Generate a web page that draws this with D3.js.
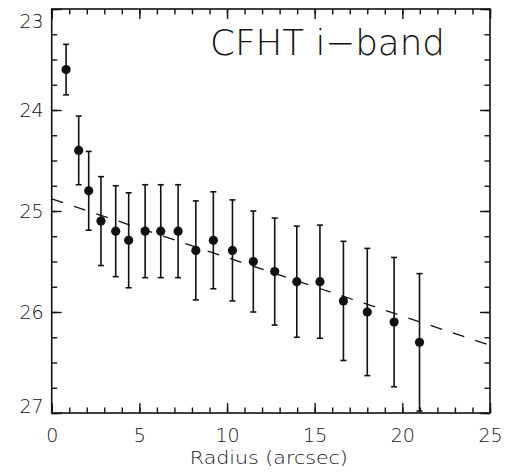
<!DOCTYPE html>
<html>
<head>
<meta charset="utf-8">
<script src="https://cdn.jsdelivr.net/npm/d3@7/dist/d3.min.js"></script>
<style>
  html, body { margin: 0; padding: 0; background: #fff; }
  svg { display: block; }
  .lbl { font-family: "DejaVu Sans", sans-serif; font-weight: 200; fill: #111; }
</style>
</head>
<body>
<svg id="chart" width="515" height="476"></svg>
<script>
// Radial surface-brightness profile, CFHT i-band
const radius = [0.82, 1.54, 2.11, 2.81, 3.65, 4.39, 5.33, 6.22, 7.21, 8.22, 9.22, 10.31, 11.50, 12.72, 13.98, 15.30, 16.64, 18.00, 19.53, 20.98];
const mag    = [23.60, 24.40, 24.80, 25.10, 25.20, 25.29, 25.20, 25.20, 25.20, 25.39, 25.29, 25.39, 25.50, 25.60, 25.70, 25.70, 25.89, 26.00, 26.10, 26.30];
const magErr = [0.25, 0.34, 0.39, 0.44, 0.45, 0.47, 0.46, 0.46, 0.46, 0.49, 0.48, 0.50, 0.50, 0.53, 0.55, 0.56, 0.59, 0.63, 0.64, 0.68];

// Linear fit: mu(r) = fitZero + fitSlope * r
const fitZero = 24.88;
const fitSlope = 0.058;

const xMajor = [0, 5, 10, 15, 20, 25];
const xMinor = d3.range(0, 26, 1);
const yMajor = [23, 24, 25, 26, 27];
const yMinor = d3.range(23, 27.001, 0.25);

const titleText = "CFHT i\u2212band";
const xTitle = "Radius (arcsec)";

const svg = d3.select("#chart");
const L = 51.7, R = 490, T = 9, B = 413;

const x = d3.scaleLinear().domain([0, 25]).range([L, R]);
const y = d3.scaleLinear().domain([23, 27]).range([T, B]);

// Axes with inward ticks on all four sides
function styleAxis(g) {
  g.select(".domain").remove();
  g.selectAll(".tick line").attr("stroke", "#111").attr("stroke-width", 1.4);
}

// minor ticks
svg.append("g").attr("transform", `translate(0,${B})`)
  .call(d3.axisBottom(x).tickValues(xMinor).tickSize(-5.5).tickFormat(""))
  .call(styleAxis);
svg.append("g").attr("transform", `translate(0,${T})`)
  .call(d3.axisTop(x).tickValues(xMinor).tickSize(-5.5).tickFormat(""))
  .call(styleAxis);
svg.append("g").attr("transform", `translate(${L},0)`)
  .call(d3.axisLeft(y).tickValues(yMinor).tickSize(-5.5).tickFormat(""))
  .call(styleAxis);
svg.append("g").attr("transform", `translate(${R},0)`)
  .call(d3.axisRight(y).tickValues(yMinor).tickSize(-5.5).tickFormat(""))
  .call(styleAxis);

// major ticks + labels
const xb = svg.append("g").attr("transform", `translate(0,${B})`)
  .call(d3.axisBottom(x).tickValues(xMajor).tickSize(-10).tickPadding(16).tickFormat(d3.format("d")))
  .call(styleAxis);
svg.append("g").attr("transform", `translate(0,${T})`)
  .call(d3.axisTop(x).tickValues(xMajor).tickSize(-10).tickFormat(""))
  .call(styleAxis);
const yl = svg.append("g").attr("transform", `translate(${L},0)`)
  .call(d3.axisLeft(y).tickValues(yMajor).tickSize(-10).tickPadding(8).tickFormat(d3.format("d")))
  .call(styleAxis);
svg.append("g").attr("transform", `translate(${R},0)`)
  .call(d3.axisRight(y).tickValues(yMajor).tickSize(-10).tickFormat(""))
  .call(styleAxis);

[xb, yl].forEach(g => g.selectAll("text")
  .attr("class", "lbl").attr("font-size", 19).attr("fill", "#111")
  .style("font-family", "'DejaVu Sans', sans-serif"));
// keep the end labels of the y axis inside the frame height
yl.selectAll(".tick text").attr("dy", d => d === 23 ? "0.95em" : d === 27 ? "-0.05em" : "0.36em");

// frame
svg.append("rect")
  .attr("x", L).attr("y", T).attr("width", R - L).attr("height", B - T)
  .attr("fill", "none").attr("stroke", "#111").attr("stroke-width", 1.6);

// fitted line (dashed)
svg.append("line")
  .attr("x1", x(0)).attr("y1", y(fitZero))
  .attr("x2", x(25)).attr("y2", y(fitZero + fitSlope * 25))
  .attr("stroke", "#111").attr("stroke-width", 1.3)
  .attr("stroke-dasharray", "12,11.5");

const pts = radius.map((r, i) => ({ r, m: mag[i], e: magErr[i] }));
const clampY = v => Math.min(27, Math.max(23, v));

const eb = svg.append("g").attr("stroke", "#111").attr("stroke-width", 1.6);
eb.selectAll("line.bar").data(pts).join("line").attr("class", "bar")
  .attr("x1", d => x(d.r)).attr("x2", d => x(d.r))
  .attr("y1", d => y(clampY(d.m - d.e))).attr("y2", d => y(clampY(d.m + d.e)));
eb.selectAll("line.capT").data(pts).join("line").attr("class", "capT")
  .attr("x1", d => x(d.r) - 3).attr("x2", d => x(d.r) + 3)
  .attr("y1", d => y(clampY(d.m - d.e))).attr("y2", d => y(clampY(d.m - d.e)));
eb.selectAll("line.capB").data(pts).join("line").attr("class", "capB")
  .attr("x1", d => x(d.r) - 3).attr("x2", d => x(d.r) + 3)
  .attr("y1", d => y(clampY(d.m + d.e))).attr("y2", d => y(clampY(d.m + d.e)));

svg.append("g").selectAll("circle").data(pts).join("circle")
  .attr("cx", d => x(d.r)).attr("cy", d => y(d.m)).attr("r", 4.6)
  .attr("fill", "#111");

// titles
svg.append("text").attr("class", "lbl")
  .attr("x", 210).attr("y", 55).attr("font-size", 36)
  .attr("textLength", 235).attr("lengthAdjust", "spacingAndGlyphs")
  .text(titleText);

svg.append("text").attr("class", "lbl")
  .attr("x", (L + R) / 2 - 2).attr("y", 464).attr("font-size", 18)
  .attr("text-anchor", "middle")
  .attr("textLength", 158).attr("lengthAdjust", "spacingAndGlyphs")
  .text(xTitle);
</script>
</body>
</html>
